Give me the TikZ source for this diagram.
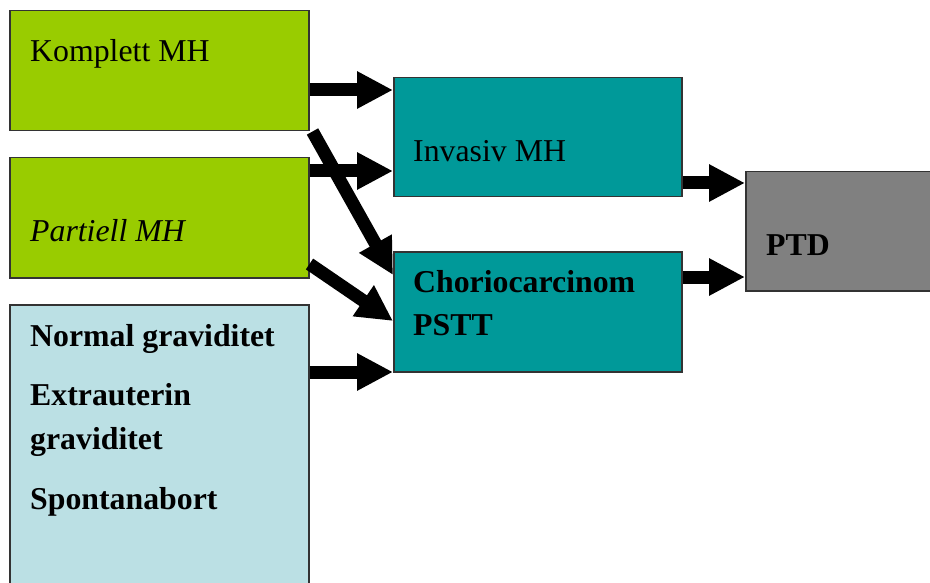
\documentclass[tikz,border=0pt]{standalone}
\usepackage{fontspec}
\setmainfont{Liberation Serif}
\usetikzlibrary{arrows.meta,calc}
\definecolor{limeg}{RGB}{153,204,0}
\definecolor{tealb}{RGB}{0,153,153}
\definecolor{greyb}{RGB}{128,128,128}
\definecolor{paleb}{RGB}{187,224,228}
\begin{document}
\begin{tikzpicture}[x=1pt,y=-1pt,
 box/.style={draw=black!80,line width=1.5pt,anchor=north west,inner sep=0pt},
 txt/.style={anchor=base west,inner sep=0pt,font=\fontsize{31.8}{36}\selectfont},
 btxt/.style={txt,font=\fontsize{31.8}{36}\selectfont\bfseries},
 arr/.style={line width=13pt,-{Triangle[length=36pt,width=35pt]}}]
\useasboundingbox (0,0) rectangle (930,583);
\node[box,fill=limeg,minimum width=299pt,minimum height=120pt] (kom) at (9,10) {};
\node[box,fill=limeg,minimum width=299pt,minimum height=120pt] (par) at (9,157) {};
\node[box,fill=paleb,minimum width=299pt,minimum height=300pt] (nor) at (9,304) {};
\node[box,fill=tealb,minimum width=288pt,minimum height=119pt] (inv) at (393,77) {};
\node[box,fill=tealb,minimum width=288pt,minimum height=120pt] (cho) at (393,251) {};
\node[box,fill=greyb,minimum width=220pt,minimum height=119pt] (ptd) at (745,171) {};
\node[txt] (tkom) at (30,62) {Komplett MH};
\node[txt] (tpar) at (30,242) {\itshape Partiell MH};
\node[btxt] (tn1) at (30,346) {Normal graviditet};
\node[btxt] (tn2) at (30,405) {Extrauterin};
\node[btxt] (tn3) at (30,449) {graviditet};
\node[btxt] (tn4) at (30,509) {Spontanabort};
\node[txt] (tinv) at (413,162) {Invasiv MH};
\node[btxt] (tch1) at (413,292) {Choriocarcinom};
\node[btxt] (tch2) at (413,335) {PSTT};
\node[btxt] (tptd) at (766,255) {PTD};
\draw[arr] (kom.east |- 0,90) -- (inv.west |- 0,90);
\draw[arr] (par.east |- 0,171) -- (inv.west |- 0,171);
\draw[arr] ([xshift=3pt]kom.south east) -- (cho.west |- 0,275);
\draw[arr] (par.east |- 0,264) -- (cho.west |- 0,321);
\draw[arr] (nor.east |- 0,372) -- (cho.west |- 0,372);
\draw[arr] (inv.east |- 0,183) -- (ptd.west |- 0,183);
\draw[arr] (cho.east |- 0,277) -- (ptd.west |- 0,277);
\end{tikzpicture}
\end{document}
